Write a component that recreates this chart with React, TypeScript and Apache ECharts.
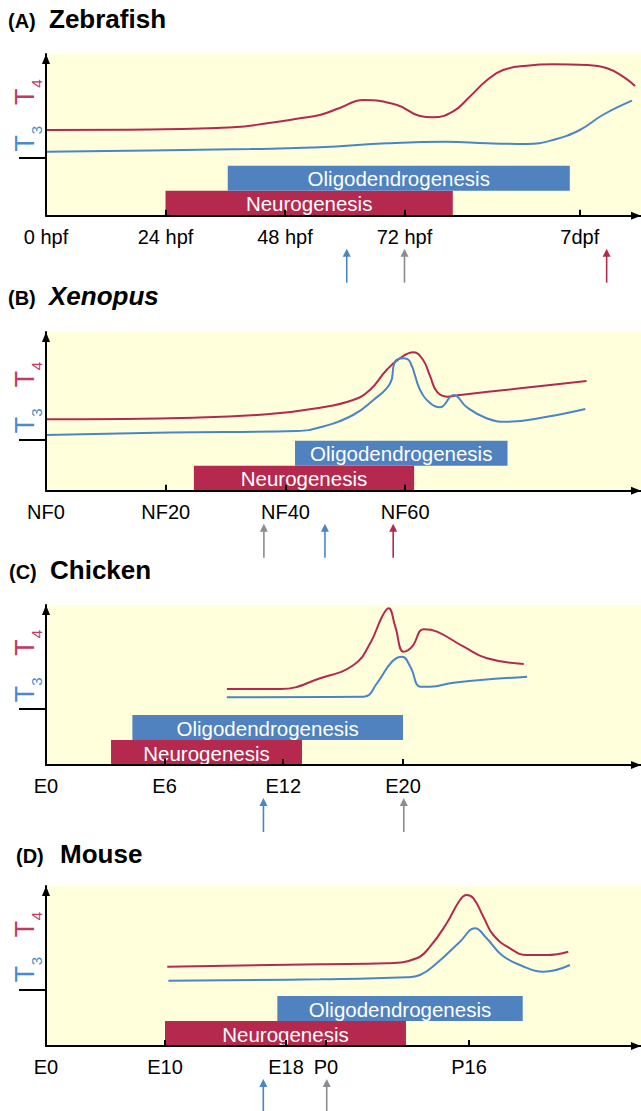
import React, { useEffect, useRef } from 'react';
import * as echarts from 'echarts';

// ---------- Panel A: Zebrafish (x in hpf; 7dpf drawn on the compressed axis) ----------
const zebraTicks = [0, 24, 48, 72, 107.2];
const zebraTickLabels = ['0 hpf', '24 hpf', '48 hpf', '72 hpf', '7dpf'];
const zebraT4 = [[0, 85.7], [20.9, 86.2], [37.6, 88.4], [44.4, 92.4], [51.0, 97.4], [55.0, 100.7], [59.0, 107.7], [63.7, 115.7], [70.5, 110.7], [75.1, 99.7], [77.7, 98.4], [81.7, 104], [85.1, 119], [88.6, 135.7], [91.8, 145.7], [96.6, 150], [101.8, 151.4], [108.6, 150.7], [112.7, 147.4], [115.9, 139], [118.3, 129.7]];
const zebraT3 = [[0, 64], [20.9, 65.2], [41, 66.7], [55, 68.4], [68.5, 72.4], [80.5, 74], [88.6, 72.4], [96.6, 71.7], [101.8, 75.7], [107.2, 85.7], [111.8, 100.7], [117.7, 115]];
const zebraNeuro = [24, 81.7];
const zebraOligo = [36.5, 105.2];
const zebraArrows = [60.4, 72, 112.6];
const zebraArrowColors = ['blue', 'grey', 'red'];

// ---------- Panel B: Xenopus (NF stages) ----------
const xenoTicks = [0, 20, 40, 60];
const xenoTickLabels = ['NF0', 'NF20', 'NF40', 'NF60'];
const xenoT4 = [[0, 71.4], [24.6, 73], [36.9, 76.4], [45.8, 83], [51.3, 90.7], [54.1, 100.7], [56.9, 120.7], [59.1, 132.4], [61.4, 138.4], [63.0, 130.7], [64.2, 114], [65.3, 99], [67.0, 94], [69.2, 95.7], [79.2, 102.4], [90.3, 109.7]];
const xenoT3 = [[0, 55.7], [20.7, 58.2], [41.9, 59.7], [45.8, 63.4], [51.3, 75.7], [54.7, 90.7], [57.5, 107.4], [58.3, 129], [59.7, 132.4], [60.8, 129], [62.5, 100.7], [64.2, 87.4], [65.8, 83.4], [68.1, 95.7], [70.3, 83.4], [73.6, 72.4], [77.0, 69], [83.7, 74], [90.1, 81.7]];
const xenoNeuro = [24.7, 61.5];
const xenoOligo = [41.6, 77.1];
const xenoArrows = [36.4, 46.6, 58.0];
const xenoArrowColors = ['grey', 'blue', 'red'];

// ---------- Panel C: Chicken (embryonic days, compressed after E12) ----------
const chickTicks = [0, 6, 12, 18.06];
const chickTickLabels = ['E0', 'E6', 'E12', 'E20'];
const chickT4 = [[9.15, 76], [11.85, 76], [13.87, 86.7], [15.56, 100], [16.4, 121.7], [17.0, 148.3], [17.33, 156.7], [17.67, 138.3], [18.09, 113.3], [18.52, 118.3], [19.1, 135.7], [19.78, 133.3], [21.13, 118.3], [22.31, 106.7], [24.17, 101]];
const chickT3 = [[9.15, 67.7], [16.07, 68.3], [16.74, 81.7], [17.5, 103.3], [18.01, 108.3], [18.43, 98.3], [18.94, 78.3], [19.44, 78.3], [20.62, 82.3], [24.34, 88.3]];
const chickNeuro = [3.29, 12.95];
const chickOligo = [4.37, 18.06];
const chickArrows = [11.0, 18.1];
const chickArrowColors = ['blue', 'grey'];

// ---------- Panel D: Mouse (E0 .. P16 on a schematic axis) ----------
const mouseTicks = [0, 10, 20.17, 23.53, 35.55];
const mouseTickLabels = ['E0', 'E10', 'E18', 'P0', 'P16'];
const mouseT4 = [[10.19, 79.3], [23.03, 81.7], [28.63, 82.7], [31.15, 87.7], [32.27, 99.3], [33.67, 122.7], [34.79, 146], [35.35, 151], [35.92, 147.7], [36.75, 129.3], [37.59, 111], [38.99, 97.7], [40.39, 91], [42.08, 91], [43.89, 94.3]];
const mouseT3 = [[10.28, 65.3], [23.03, 66.7], [30.31, 68.7], [31.43, 71], [32.83, 82.7], [34.79, 104.3], [36.05, 117.7], [37.03, 107.7], [38.29, 91], [39.83, 81], [41.79, 74.3], [44.03, 81]];
const mouseNeuro = [10, 30.25];
const mouseOligo = [19.44, 40.06];
const mouseArrows = [18.26, 23.59];
const mouseArrowColors = ['blue', 'grey'];

// bar levels (relative level units above the time axis)
const neuroLevel = [0, 25];
const oligoLevel = [25, 50];
const barNames = ['Neurogenesis', 'Oligodendrogenesis'];

// ---------- styles / layout ----------
const RED = '#B5294F';
const BLUE = '#4F82BE';
const LINE_BLUE = '#4A86C6';
const GREY = '#8C8C8C';
const T4_COLOR = '#C03A62';
const T3_COLOR = '#4A8BD0';
const BG = '#FFFFDC';
const FONT = '"Liberation Sans", Arial, Helvetica, sans-serif';
const arrowColorMap: Record<string, string> = { blue: LINE_BLUE, grey: GREY, red: RED };

const GRID_LEFT = 46;

const panels = [
  { tag: '(A)', name: 'Zebrafish', italic: false, ticks: zebraTicks, labels: zebraTickLabels, xMax: 119.5, top: 54, height: 161.7, yMax: 161.7, mark: 57.7,
    t4: zebraT4, t3: zebraT3, neuro: zebraNeuro, oligo: zebraOligo, arrows: zebraArrows, arrowColors: zebraArrowColors,
    titleBase: 28.3, tagX: 8, nameX: 49, t4Y: [119, 132], t3Y: [72.4, 85.7] },
  { tag: '(B)', name: 'Xenopus', italic: true, ticks: xenoTicks, labels: xenoTickLabels, xMax: 99.4, top: 332, height: 158.7, yMax: 158.7, mark: 50.7,
    t4: xenoT4, t3: xenoT3, neuro: xenoNeuro, oligo: xenoOligo, arrows: xenoArrows, arrowColors: xenoArrowColors,
    titleBase: 305.3, tagX: 8, nameX: 49, t4Y: [111.7, 124.7], t3Y: [65.7, 78.2] },
  { tag: '(C)', name: 'Chicken', italic: false, ticks: chickTicks, labels: chickTickLabels, xMax: 30.1, top: 605, height: 160, yMax: 160, mark: 56,
    t4: chickT4, t3: chickT3, neuro: chickNeuro, oligo: chickOligo, arrows: chickArrows, arrowColors: chickArrowColors,
    titleBase: 578.6, tagX: 9, nameX: 50, t4Y: [117.5, 131], t3Y: [71, 83.3] },
  { tag: '(D)', name: 'Mouse', italic: false, ticks: mouseTicks, labels: mouseTickLabels, xMax: 50, top: 886, height: 160, yMax: 160, mark: 56,
    t4: mouseT4, t3: mouseT3, neuro: mouseNeuro, oligo: mouseOligo, arrows: mouseArrows, arrowColors: mouseArrowColors,
    titleBase: 863.3, tagX: 16, nameX: 60, t4Y: [117, 130], t3Y: [72, 85] },
];

function buildOption() {
  const grid: any[] = [];
  const xAxis: any[] = [];
  const yAxis: any[] = [];
  const series: any[] = [];
  const graphic: any[] = [];

  panels.forEach((p, i) => {
    grid.push({ left: GRID_LEFT, right: 0, top: p.top, height: p.height, show: true, backgroundColor: BG, borderWidth: 0 });
    xAxis.push({
      type: 'value', gridIndex: i, min: 0, max: p.xMax, z: 5,
      splitLine: { show: false },
      axisLine: { show: true, onZero: false, lineStyle: { color: '#000', width: 2 }, symbol: ['none', 'triangle'], symbolSize: [8, 10], symbolOffset: [0, -5] },
      axisTick: { show: true, customValues: p.ticks, inside: true, length: 6, lineStyle: { color: '#000', width: 2 } },
      axisLabel: {
        show: true, customValues: p.ticks, margin: 11, fontSize: 20, color: '#000', fontFamily: FONT,
        formatter: (v: number) => {
          const k = p.ticks.findIndex((t) => Math.abs(t - v) < 1e-6);
          return k >= 0 ? p.labels[k] : '';
        },
      },
    });
    yAxis.push({
      type: 'value', gridIndex: i, min: 0, max: p.yMax, z: 5,
      splitLine: { show: false },
      axisLine: { show: true, lineStyle: { color: '#000', width: 2 }, symbol: ['none', 'triangle'], symbolSize: [8, 10], symbolOffset: [0, -5] },
      axisTick: { show: true, customValues: [p.mark], length: 27, lineStyle: { color: '#000', width: 2 } },
      axisLabel: { show: false },
    });

    // bars
    const barData = [
      [p.neuro[0], p.neuro[1], neuroLevel[0], neuroLevel[1], 0],
      [p.oligo[0], p.oligo[1], oligoLevel[0], oligoLevel[1], 1],
    ];
    series.push({
      type: 'custom', xAxisIndex: i, yAxisIndex: i, z: 1,
      encode: { x: [0, 1], y: [2, 3] },
      data: barData,
      renderItem: (params: any, api: any) => {
        const k = api.value(4);
        const a = api.coord([api.value(0), api.value(3)]);
        const b = api.coord([api.value(1), api.value(2)]);
        const w = b[0] - a[0];
        const h = b[1] - a[1];
        return {
          type: 'group',
          children: [
            { type: 'rect', shape: { x: a[0], y: a[1], width: w, height: h }, style: { fill: k === 0 ? RED : BLUE } },
            { type: 'text', style: { text: barNames[k], x: a[0] + w / 2, y: a[1] + h / 2 + 0.5, align: 'center', verticalAlign: 'middle', fill: '#fff', fontSize: 20.5, fontFamily: FONT } },
          ],
        };
      },
    });

    // hormone curves
    series.push({ type: 'line', name: 'T4', xAxisIndex: i, yAxisIndex: i, data: p.t4, smooth: 0.45, showSymbol: false, z: 3, lineStyle: { color: RED, width: 2 } });
    series.push({ type: 'line', name: 'T3', xAxisIndex: i, yAxisIndex: i, data: p.t3, smooth: 0.45, showSymbol: false, z: 3, lineStyle: { color: LINE_BLUE, width: 2 } });

    // arrows under the axis
    series.push({
      type: 'custom', xAxisIndex: i, yAxisIndex: i, clip: false, z: 4,
      encode: { x: 0 },
      data: p.arrows.map((x, j) => [x, j]),
      renderItem: (params: any, api: any) => {
        const c = arrowColorMap[p.arrowColors[api.value(1)]];
        const pt = api.coord([api.value(0), 0]);
        const x = pt[0];
        const tip = pt[1] + 33;
        const tail = pt[1] + 67;
        return {
          type: 'group',
          children: [
            { type: 'line', shape: { x1: x, y1: tail, x2: x, y2: tip + 6 }, style: { stroke: c, lineWidth: 1.6 } },
            { type: 'polygon', shape: { points: [[x - 4, tip + 8], [x + 4, tip + 8], [x, tip]] }, style: { fill: c } },
          ],
        };
      },
    });

    const axisY = p.top + p.height;
    // titles
    graphic.push({ type: 'text', x: p.tagX, y: p.titleBase - 6.9, style: { text: p.tag, fontSize: 20, fontWeight: 'bold', fontFamily: FONT, fill: '#000', align: 'left', verticalAlign: 'middle' } });
    graphic.push({ type: 'text', x: p.nameX, y: p.titleBase - 9, style: { text: p.name, fontSize: 26, fontWeight: 'bold', fontStyle: p.italic ? 'italic' : 'normal', fontFamily: FONT, fill: '#000', align: 'left', verticalAlign: 'middle' } });
    // T4 / T3 axis labels
    graphic.push({ type: 'text', x: 25, y: axisY - p.t4Y[0], rotation: Math.PI / 2, style: { text: 'T', fontSize: 27, fontFamily: FONT, fill: T4_COLOR, align: 'center', verticalAlign: 'middle' } });
    graphic.push({ type: 'text', x: 36, y: axisY - p.t4Y[1], rotation: Math.PI / 2, style: { text: '4', fontSize: 15, fontFamily: FONT, fill: T4_COLOR, align: 'center', verticalAlign: 'middle' } });
    graphic.push({ type: 'text', x: 25, y: axisY - p.t3Y[0], rotation: Math.PI / 2, style: { text: 'T', fontSize: 27, fontFamily: FONT, fill: T3_COLOR, align: 'center', verticalAlign: 'middle' } });
    graphic.push({ type: 'text', x: 36, y: axisY - p.t3Y[1], rotation: Math.PI / 2, style: { text: '3', fontSize: 15, fontFamily: FONT, fill: T3_COLOR, align: 'center', verticalAlign: 'middle' } });
  });

  return { animation: false, grid, xAxis, yAxis, series, graphic };
}

export default function App() {
  const ref = useRef<HTMLDivElement>(null);
  useEffect(() => {
    if (!ref.current) return;
    const chart = echarts.init(ref.current, undefined, { renderer: 'svg' });
    chart.setOption(buildOption() as any);
    return () => chart.dispose();
  }, []);
  return <div ref={ref} style={{ position: 'absolute', left: 0, top: 0, width: 641, height: 1111 }} />;
}
